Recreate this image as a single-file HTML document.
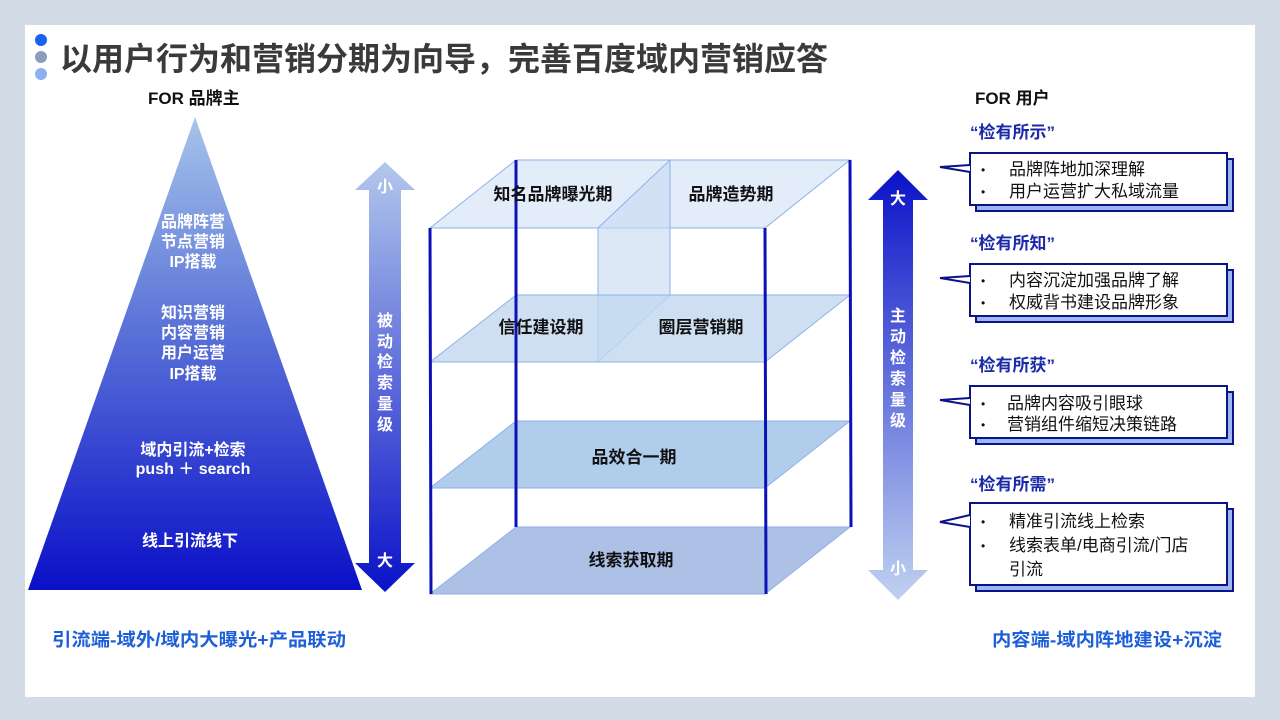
<!DOCTYPE html>
<html><head><meta charset="utf-8"><style>
body{margin:0;width:1280px;height:720px;overflow:hidden;background:#d3dbe6;font-family:"Liberation Sans","Noto Sans CJK SC",sans-serif;}
svg{position:absolute;left:0;top:0}
text{font-family:"Liberation Sans","Noto Sans CJK SC",sans-serif}
</style></head><body>
<svg width="1280" height="720" viewBox="0 0 1280 720">
<defs>
<linearGradient id="tri" x1="0" y1="0" x2="0" y2="1"><stop offset="0" stop-color="#a6c4ea"/><stop offset="0.45" stop-color="#5a72d8"/><stop offset="1" stop-color="#0a10c8"/></linearGradient>
<linearGradient id="la" x1="0" y1="0" x2="0" y2="1"><stop offset="0" stop-color="#b3c8ec"/><stop offset="1" stop-color="#0a12c8"/></linearGradient>
<linearGradient id="ra" x1="0" y1="0" x2="0" y2="1"><stop offset="0" stop-color="#0a12c8"/><stop offset="1" stop-color="#c0d2f0"/></linearGradient>
</defs>
<rect x="25" y="25" width="1230" height="672" fill="#fff"/>
<circle cx="41" cy="40" r="6" fill="#1763f0"/><circle cx="41" cy="57" r="6" fill="#8a9cc0"/><circle cx="41" cy="74" r="6" fill="#8fb0f0"/>
<text x="60" y="70" font-size="32" font-weight="bold" fill="#3a3a3a" textLength="768" lengthAdjust="spacingAndGlyphs">以用户行为和营销分期为向导，完善百度域内营销应答</text>
<text x="148" y="104" font-size="17" font-weight="bold" fill="#111">FOR 品牌主</text>
<text x="975" y="104" font-size="17" font-weight="bold" fill="#111">FOR 用户</text>
<polygon points="195,117 362,590 28,590" fill="url(#tri)"/>
<g fill="#fff" font-size="16" font-weight="bold" text-anchor="middle">
<text x="193" y="227">品牌阵营</text><text x="193" y="247">节点营销</text><text x="193" y="267">IP搭载</text>
<text x="193" y="318">知识营销</text><text x="193" y="338">内容营销</text><text x="193" y="358">用户运营</text><text x="193" y="379">IP搭载</text>
<text x="193" y="455">域内引流+检索</text><text x="193" y="474">push ＋ search</text>
<text x="190" y="546">线上引流线下</text>
</g>
<polygon points="385,162 415,190 401,190 401,563 415,563 385,592 355,563 369,563 369,190 355,190" fill="url(#la)"/>
<g fill="#fff" font-size="16" font-weight="bold" text-anchor="middle">
<text x="385" y="192">小</text><text x="385" y="566">大</text>
<text x="385" y="326">被</text><text x="385" y="347">动</text><text x="385" y="367">检</text><text x="385" y="388">索</text><text x="385" y="409">量</text><text x="385" y="430">级</text>
</g>
<g stroke="#8fb0e8" stroke-width="1">
<polygon points="516,160 850,160 765,228 430,228" fill="#dce8f7" fill-opacity="0.8"/>
<polygon points="670,160 670,295 598,362 598,228" fill="#c6d9f1" fill-opacity="0.6"/>
<polygon points="516,295 850,295 765,362 430,362" fill="#c2d7ef" fill-opacity="0.8"/>
<polygon points="516,421 850,421 765,488 430,488" fill="#a9c8ea" fill-opacity="0.9"/>
<polygon points="516,527 850,527 765,594 430,594" fill="#9fb6e2" fill-opacity="0.85"/>
</g>
<g stroke="#0a12b8" stroke-width="3">
<line x1="516" y1="160" x2="516" y2="527"/><line x1="850" y1="160" x2="851" y2="527"/>
<line x1="430" y1="228" x2="431" y2="594"/><line x1="765" y1="228" x2="766" y2="594"/>
</g>
<g fill="#111" font-size="17" font-weight="bold" text-anchor="middle">
<text x="553" y="200">知名品牌曝光期</text><text x="731" y="200">品牌造势期</text>
<text x="541" y="333">信任建设期</text><text x="701" y="333">圈层营销期</text>
<text x="634" y="463">品效合一期</text><text x="631" y="566">线索获取期</text>
</g>
<polygon points="898,170 928,200 913,200 913,570 928,570 898,600 868,570 883,570 883,200 868,200" fill="url(#ra)"/>
<g fill="#fff" font-size="16" font-weight="bold" text-anchor="middle">
<text x="898" y="204">大</text><text x="898" y="574">小</text>
<text x="898" y="321">主</text><text x="898" y="342">动</text><text x="898" y="363">检</text><text x="898" y="384">索</text><text x="898" y="405">量</text><text x="898" y="426">级</text>
</g>
<g font-size="17" font-weight="bold" fill="#1a2aa8">
<text x="970" y="138">“检有所示”</text><text x="970" y="249">“检有所知”</text><text x="970" y="371">“检有所获”</text><text x="970" y="490">“检有所需”</text>
</g>
<g stroke="#0a1488" stroke-width="2">
<rect x="976" y="159" width="257" height="52" fill="#9db8f0"/><rect x="970" y="153" width="257" height="52" fill="#fff"/>
<polyline points="970,165 940,167 970,172" fill="#fff"/>
<rect x="976" y="270" width="257" height="52" fill="#9db8f0"/><rect x="970" y="264" width="257" height="52" fill="#fff"/>
<polyline points="970,276 940,278 970,283" fill="#fff"/>
<rect x="976" y="392" width="257" height="52" fill="#9db8f0"/><rect x="970" y="386" width="257" height="52" fill="#fff"/>
<polyline points="970,398 940,400 970,405" fill="#fff"/>
<rect x="976" y="509" width="257" height="82" fill="#9db8f0"/><rect x="970" y="503" width="257" height="82" fill="#fff"/>
<polyline points="970,515 940,522 970,527" fill="#fff"/>
</g>
<g font-size="17" fill="#111">
<text x="981" y="174" font-size="12">•</text><text x="1009" y="175">品牌阵地加深理解</text>
<text x="981" y="196" font-size="12">•</text><text x="1009" y="197">用户运营扩大私域流量</text>
<text x="981" y="285" font-size="12">•</text><text x="1009" y="286">内容沉淀加强品牌了解</text>
<text x="981" y="307" font-size="12">•</text><text x="1009" y="308">权威背书建设品牌形象</text>
<text x="981" y="408" font-size="12">•</text><text x="1007" y="409">品牌内容吸引眼球</text>
<text x="981" y="429" font-size="12">•</text><text x="1007" y="430">营销组件缩短决策链路</text>
<text x="981" y="526" font-size="12">•</text><text x="1009" y="527">精准引流线上检索</text>
<text x="981" y="550" font-size="12">•</text><text x="1009" y="551">线索表单/电商引流/门店</text>
<text x="1009" y="575">引流</text>
</g>
<text x="52" y="646" font-size="18" font-weight="bold" fill="#1c5fd8" textLength="294" lengthAdjust="spacingAndGlyphs">引流端-域外/域内大曝光+产品联动</text>
<text x="992" y="646" font-size="18" font-weight="bold" fill="#1c5fd8" textLength="230" lengthAdjust="spacingAndGlyphs">内容端-域内阵地建设+沉淀</text>
</svg>
</body></html>
